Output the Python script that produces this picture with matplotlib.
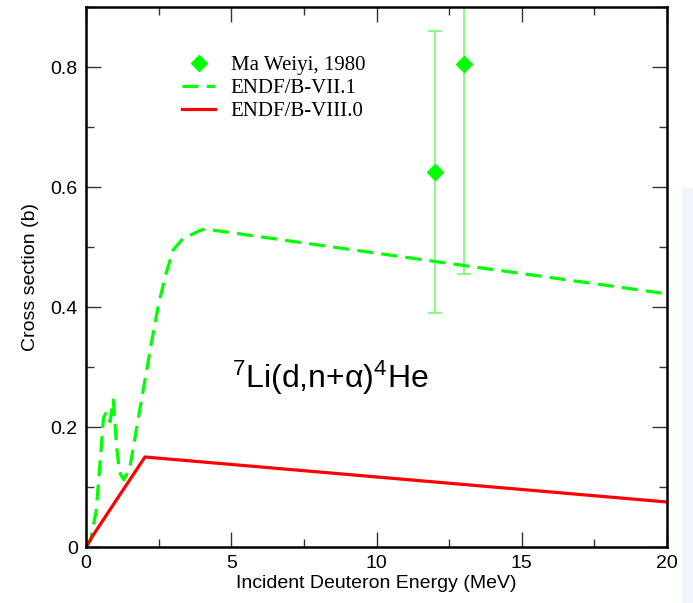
import matplotlib
matplotlib.use("Agg")
import matplotlib.pyplot as plt
from matplotlib.patches import Rectangle
from matplotlib.ticker import MultipleLocator

plt.rcParams['font.family'] = ['Liberation Sans', 'DejaVu Sans']
plt.rcParams['mathtext.fontset'] = 'custom'
plt.rcParams['mathtext.rm'] = 'Liberation Sans'
plt.rcParams['mathtext.it'] = 'Liberation Sans:italic'

# ENDF/B-VII.1 (dashed green)
e71 = [0.0, 0.15, 0.35, 0.5, 0.6, 0.7, 0.83, 0.94, 1.05, 1.15, 1.3, 1.5, 1.75, 2.0, 2.25, 2.5, 2.75, 3.0, 3.3, 3.6, 3.9, 4.1, 12.0, 20.0]
xs71 = [0.0, 0.01, 0.06, 0.15, 0.215, 0.225, 0.209, 0.245, 0.17, 0.125, 0.112, 0.13, 0.2, 0.27, 0.34, 0.405, 0.455, 0.495, 0.512, 0.52, 0.527, 0.53, 0.476, 0.422]

# ENDF/B-VIII.0 (solid red)
e80 = [0.0, 0.25, 1.0, 2.03, 20.0]
xs80 = [0.0, 0.02, 0.075, 0.15, 0.075]

# Ma Weiyi, 1980
e_exp = [12.0, 13.0]
xs_exp = [0.625, 0.805]
err_exp = [0.235, 0.35]

fig = plt.figure(figsize=(6.93, 6.03), dpi=100)
fig.patches.append(Rectangle((682 / 693, 0), 11 / 693, (603 - 188) / 603,
                             transform=fig.transFigure, color='#f0f4fb', zorder=0))
ax = fig.add_axes([86 / 693, 56 / 603, 581 / 693, 540 / 603])

ax.errorbar(e_exp, xs_exp, yerr=err_exp, fmt='none', ecolor='#66ff66',
            elinewidth=1.1, capsize=5, capthick=1.1, zorder=2)
ax.plot(e_exp, xs_exp, 'D', color='#00ff00', ms=8.5, label='Ma Weiyi, 1980', zorder=3)
ax.plot(e71, xs71, color='#00ff00', lw=2.3, dashes=(5, 2.6), label='ENDF/B-VII.1')
ax.plot(e80, xs80, color='#ff0000', lw=2.3, label='ENDF/B-VIII.0')

ax.set_xlim(0, 20)
ax.set_ylim(0, 0.9)
ax.xaxis.set_major_locator(MultipleLocator(5))
ax.xaxis.set_minor_locator(MultipleLocator(2.5))
ax.yaxis.set_minor_locator(MultipleLocator(0.1))
ax.set_yticks([0, 0.2, 0.4, 0.6, 0.8])
ax.set_yticklabels(['0', '0.2', '0.4', '0.6', '0.8'])
ax.tick_params(which='both', direction='in', top=True, right=True,
               labelsize=14, width=1.0, color='#333333')
ax.tick_params(which='major', length=11, pad=6)
ax.tick_params(which='minor', length=5.5)
for s in ax.spines.values():
    s.set_linewidth(1.8)

ax.set_xlabel('Incident Deuteron Energy (MeV)', fontsize=14, labelpad=2)
ax.set_ylabel('Cross section (b)', fontsize=14, labelpad=8)

ax.text(0.251, 0.294, r'$^{7}$Li(d,n+α)$^{4}$He', transform=ax.transAxes,
        fontsize=23, va='baseline', ha='left')

ax.legend(loc='upper left', bbox_to_anchor=(0.165, 0.91), frameon=False,
          prop={'family': 'Liberation Serif', 'size': 15},
          handlelength=1.6, handletextpad=0.75, labelspacing=0.16,
          borderpad=0, borderaxespad=0)

fig.savefig('out.png', dpi=100)
